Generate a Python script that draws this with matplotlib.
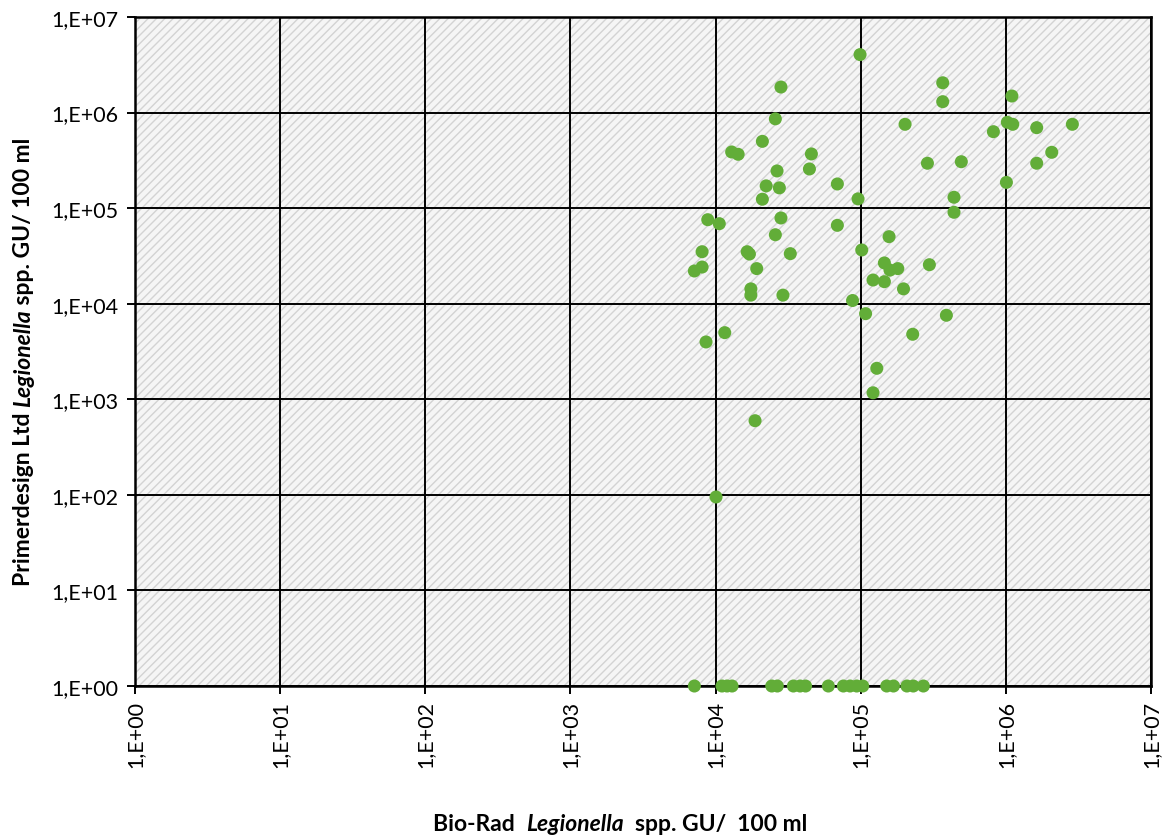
import numpy as np
import matplotlib
matplotlib.use("Agg")
import matplotlib.pyplot as plt
from matplotlib.patches import Rectangle
from matplotlib.ticker import FixedLocator, FuncFormatter, NullLocator

plt.rcParams['font.family'] = ['Lato', 'DejaVu Sans']
plt.rcParams['hatch.linewidth'] = 1.0

# samples with both assays positive
bio_rad = [28200, 25800, 21000, 12900, 14300, 45700, 44300, 26500, 22300, 27500,
           69000, 21000, 95800, 8830, 10600, 28200, 69000, 25800, 8070, 16500,
           17100, 32700, 101600, 145500, 156700, 7140, 8070, 19200, 17500, 17500,
           29100, 87800, 108000, 121500, 145500, 11560, 8590, 129000, 121500, 18700,
           10070, 98900, 367000, 367000, 1100000, 202000, 820000, 1023000, 1115000, 1630000,
           2870000, 288000, 493000, 1630000, 2070000, 1008000, 439000, 439000, 159000, 180000,
           297000, 197000, 389000, 228000]
primerdesign = [1850000, 860000, 500000, 387000, 366000, 369000, 257000, 245000, 171000, 163000,
                179000, 124000, 125000, 75700, 68800, 78900, 66100, 52700, 35000, 35000,
                33100, 33400, 36500, 26700, 50300, 22000, 24200, 23300, 14300, 12300,
                12300, 10800, 7870, 17700, 17000, 4980, 3980, 2110, 1170, 597,
                95, 4040000, 2050000, 1300000, 1490000, 754000, 631000, 791000, 754000, 695000,
                754000, 295000, 306000, 295000, 384000, 186000, 130000, 90500, 22500, 23300,
                25600, 14300, 7570, 4790]

# samples negative with Primerdesign, plotted at 1
bio_rad_neg = [7140, 11070, 11990, 12980, 24380, 26620, 34340, 38190, 41660, 59800,
               75900, 84400, 93800, 103200, 151000, 168000, 208000, 230000, 270000]
primerdesign_neg = [1] * len(bio_rad_neg)

decades = [10.0 ** k for k in range(0, 8)]

fig = plt.figure(figsize=(11.7, 8.37), dpi=100)
ax = fig.add_axes([0.1154, 0.1792, 0.8684, 0.7993])
ax.set_xscale('log')
ax.set_yscale('log')
ax.set_xlim(1, 1e7)
ax.set_ylim(1, 1e7)

# hatched plot area
ax.set_facecolor('white')
ax.add_patch(Rectangle((0, 0), 1, 1, transform=ax.transAxes, facecolor='#f5f5f5',
                       edgecolor='#d3d3d3', hatch='////', linewidth=0, zorder=0))

fmt = FuncFormatter(lambda v, p: "1,E+%02d" % int(round(np.log10(v))))
for axis in (ax.xaxis, ax.yaxis):
    axis.set_major_locator(FixedLocator(decades))
    axis.set_minor_locator(NullLocator())
    axis.set_major_formatter(fmt)

ax.grid(True, color='black', linewidth=1.4, zorder=1)
ax.set_axisbelow(True)
for sp in ax.spines.values():
    sp.set_linewidth(1.8)
    sp.set_color('black')
ax.tick_params(axis='both', direction='out', length=6, width=1.4, labelsize=15.5, colors='black')
ax.tick_params(axis='x', rotation=90, pad=4)
ax.tick_params(axis='y', pad=6)

green = '#62ad38'
ax.scatter(bio_rad, primerdesign, s=88, color=green, edgecolors='none', zorder=5, clip_on=False)
ax.scatter(bio_rad_neg, primerdesign_neg, s=88, color=green, edgecolors='none', zorder=5, clip_on=False)


def rich_label(parts, x, y, vertical=False):
    # lay out bold text pieces (some italic) one after another
    renderer = fig.canvas.get_renderer()
    texts = []
    total = 0
    for s, style in parts:
        t = fig.text(0, 0, s, fontsize=16.5, fontweight='bold', fontstyle=style,
                     rotation=90 if vertical else 0, rotation_mode='anchor',
                     ha='left', va='baseline')
        bb = t.get_window_extent(renderer)
        size = bb.height if vertical else bb.width
        texts.append((t, size))
        total += size
    W, H = fig.bbox.width, fig.bbox.height
    if vertical:
        pos = y * H - total / 2
        for t, size in texts:
            t.set_position((x, pos / H))
            pos += size
    else:
        pos = x * W - total / 2
        for t, size in texts:
            t.set_position((pos / W, y))
            pos += size


rich_label([("Bio-Rad  ", 'normal'), ("Legionella", 'italic'), ("  spp. GU/  100 ml", 'normal')],
           0.530, 1 - 831 / 837)
rich_label([("Primerdesign Ltd ", 'normal'), ("Legionella", 'italic'), (" spp. GU/ 100 ml", 'normal')],
           30 / 1170, 1 - 362 / 837, vertical=True)

fig.savefig('out.png', dpi=100)
